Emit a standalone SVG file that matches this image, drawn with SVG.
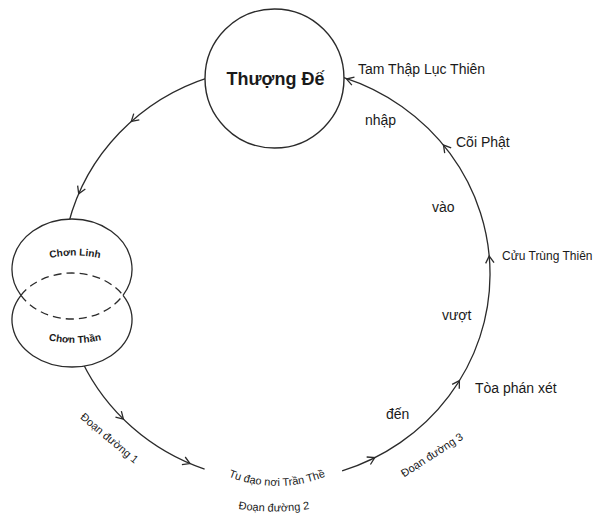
<svg xmlns="http://www.w3.org/2000/svg" xmlns:xlink="http://www.w3.org/1999/xlink" width="600" height="519" viewBox="0 0 600 519">
<style>
.ln{fill:none;stroke:#2b2b2b;stroke-width:1.3}
.nd{fill:#fff;stroke:#2b2b2b;stroke-width:1.4}
.dash{fill:none;stroke:#2b2b2b;stroke-width:1.3;stroke-dasharray:8 5}
.t{font-family:"Liberation Sans",Arial,sans-serif;fill:#1a1a1a}
.lbl{font-size:14px}
.sm{font-size:11px}
.xs{font-size:10px;font-weight:bold}
</style>
<defs>
<path id="chev" d="M-7,-4.2 L0,0 L-7,4.2" fill="none" stroke="#2b2b2b" stroke-width="1.3"/>
<path id="pLinh" d="M42,260 Q75,251 108,260"/>
<path id="pThan" d="M44,339 Q75,347 106,339"/>
<path id="pTu" d="M216,471 Q277,501 338,471"/>
<path id="pD2" d="M226,507 Q274,516 322,507"/>
</defs>
<g id="connectors">
<path class="ln" d="M209.9,77.1 A214,207 0 0 0 68.4,223.9"/>
<path class="ln" d="M82.05,361.5 A214,207 0 0 0 204.6,469.1"/>
<path class="ln" d="M342.1,470.9 A214,207 0 0 0 343.9,77.7"/>
<use href="#chev" transform="translate(131.3,121.4) rotate(138.5)"/>
<use href="#chev" transform="translate(78.7,193.8) rotate(113.5)"/>
<use href="#chev" transform="translate(123.4,419.1) rotate(44.6)"/>
<use href="#chev" transform="translate(190,463.6) rotate(23)"/>
<use href="#chev" transform="translate(374.8,457.6) rotate(-26.7)"/>
<use href="#chev" transform="translate(459.4,380.6) rotate(-58.2)"/>
<use href="#chev" transform="translate(489.2,256) rotate(-95.2)"/>
<use href="#chev" transform="translate(443.5,145.1) rotate(-129.4)"/>
<use href="#chev" transform="translate(346.5,79) rotate(-162)"/>
</g>
<g id="thuong-de">
<circle class="nd" cx="274.5" cy="78.5" r="69.5"/>
<text class="t" x="275.5" y="85" font-size="18" font-weight="bold" text-anchor="middle">Thượng Đế</text>
</g>
<g id="chon">
<ellipse cx="72" cy="269" rx="60" ry="50" fill="#fff"/>
<ellipse cx="72" cy="320" rx="60" ry="47" fill="#fff"/>
<path class="ln" d="M20.96,295.3 A60,50 0 1 1 123.04,295.3"/>
<path class="dash" d="M20.96,295.3 A60,50 0 0 0 123.04,295.3"/>
<path class="ln" d="M20.96,295.3 A60,47 0 1 0 123.04,295.3"/>
<path class="dash" d="M20.96,295.3 A60,47 0 0 1 123.04,295.3"/>
<text class="t xs"><textPath href="#pLinh" startOffset="50%" text-anchor="middle">Chơn Linh</textPath></text>
<text class="t xs"><textPath href="#pThan" startOffset="50%" text-anchor="middle">Chơn Thần</textPath></text>
</g>
<g id="labels">
<text class="t lbl" x="358" y="74">Tam Thập Lục Thiên</text>
<text class="t lbl" x="365" y="125">nhập</text>
<text class="t lbl" x="456" y="147">Cõi Phật</text>
<text class="t lbl" x="432" y="212">vào</text>
<text class="t" x="502" y="260" font-size="12">Cửu Trùng Thiên</text>
<text class="t lbl" x="442" y="320">vượt</text>
<text class="t lbl" x="475" y="393">Tòa phán xét</text>
<text class="t lbl" x="386" y="419">đến</text>
<text class="t sm" transform="translate(107,441) rotate(40)" text-anchor="middle">Đoạn đường 1</text>
<text class="t sm"><textPath href="#pTu" startOffset="50%" text-anchor="middle">Tu đạo nơi Trần Thề</textPath></text>
<text class="t sm"><textPath href="#pD2" startOffset="50%" text-anchor="middle">Đoạn đường 2</textPath></text>
<text class="t sm" transform="translate(434,458) rotate(-33)" text-anchor="middle">Đoạn đường 3</text>
</g>
</svg>
